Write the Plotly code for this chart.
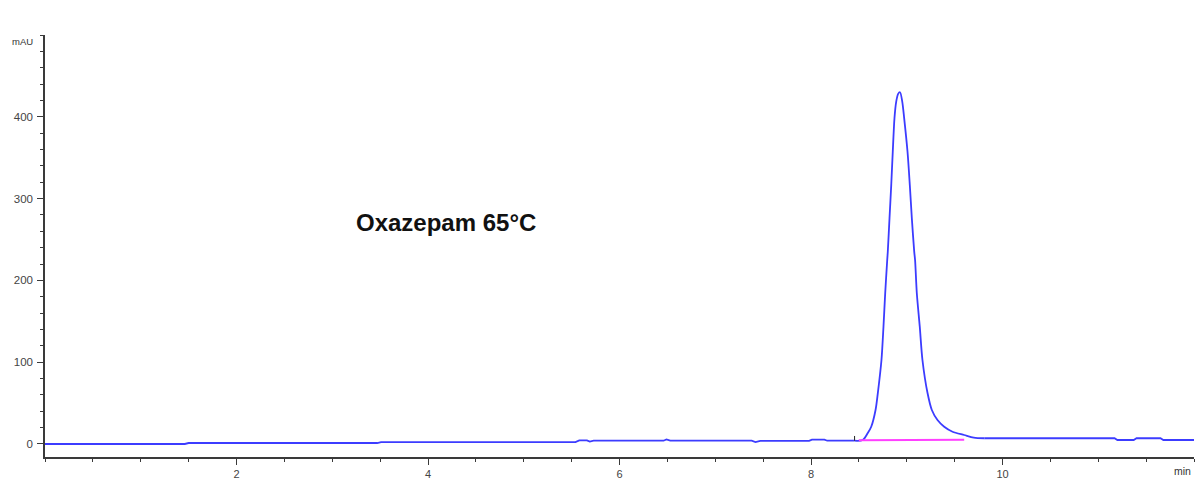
import plotly.graph_objects as go

# Retention time (min) and absorbance (mAU) of the chromatogram trace
time_min = [
    0.00, 1.46, 1.50, 3.47, 3.51, 5.54, 5.58, 5.66, 5.69, 5.73,
    6.46, 6.49, 6.53, 7.38, 7.42, 7.47, 7.98, 8.01, 8.14, 8.17,
    8.455, 8.541, 8.593, 8.629, 8.674, 8.698, 8.736, 8.757, 8.775, 8.796,
    8.802, 8.820, 8.838, 8.854, 8.872, 8.890, 8.910, 8.930, 8.953, 8.973,
    9.008, 9.032, 9.053, 9.078, 9.087, 9.105, 9.136, 9.164, 9.217, 9.262,
    9.321, 9.391, 9.478, 9.600, 9.700, 9.810, 11.17, 11.20, 11.37, 11.40,
    11.65, 11.68, 12.00,
]
absorbance_mau = [
    0.0, 0.0, 1.2, 1.2, 2.4, 2.4, 4.5, 4.5, 3.0, 4.0,
    4.0, 5.5, 4.0, 4.0, 2.4, 3.8, 3.8, 5.3, 5.3, 4.0,
    4.0, 4.9, 13.4, 21.1, 41.6, 62.3, 102.7, 143.4, 184.6, 224.9,
    235.1, 276.3, 316.6, 357.3, 398.5, 418.5, 428.0, 430.0, 418.5, 398.5,
    357.3, 316.6, 276.3, 235.1, 224.9, 184.6, 143.4, 102.7, 62.3, 41.6,
    29.3, 21.1, 15.0, 11.0, 7.8, 7.0, 7.0, 4.9, 4.9, 7.0,
    7.0, 4.9, 4.9,
]

# Integration baseline under the peak
baseline_time = [8.50, 9.60]
baseline_mau = [4.6, 5.2]

# Peak start marker
marker_time = [8.455, 8.455]
marker_mau = [4.0, 9.8]

x_tick_vals = [2, 4, 6, 8, 10]
y_tick_vals = [0, 100, 200, 300, 400]

label_text = "Oxazepam 65°C"
label_pos = (4.19, 271)

font_family = "Liberation Sans, Arial, sans-serif"
axis_color = "#3a3a3a"
trace_color = "#3c3cff"

# Plot area in pixels (used to place the corner unit labels)
plot_w = 1202 - 45 - 8
plot_h = 482 - 35 - 25

# The peak is drawn smoothed; the flat detector baseline stays piecewise linear
peak_start = time_min.index(8.455)
peak_end = time_min.index(9.810)
segments = [
    (slice(0, peak_start + 1), "linear"),
    (slice(peak_start, peak_end + 1), "spline"),
    (slice(peak_end, len(time_min)), "linear"),
]

fig = go.Figure()
for sl, shape in segments:
    fig.add_trace(go.Scatter(
        x=time_min[sl], y=absorbance_mau[sl], mode="lines",
        line=dict(color=trace_color, width=1.8, shape=shape, smoothing=0.8),
        hoverinfo="skip",
    ))
fig.add_trace(go.Scatter(
    x=baseline_time, y=baseline_mau, mode="lines",
    line=dict(color="#ff40ff", width=2), hoverinfo="skip",
))
fig.add_trace(go.Scatter(
    x=marker_time, y=marker_mau, mode="lines",
    line=dict(color="#222222", width=1), hoverinfo="skip",
))

fig.add_annotation(
    x=label_pos[0], y=label_pos[1], xref="x", yref="y",
    text=label_text, showarrow=False, xanchor="center", yanchor="middle",
    font=dict(family=font_family, size=24, color="#111111", weight="bold"),
)
fig.add_annotation(
    x=(35 - 45) / plot_w, y=1 + (35 - 41) / plot_h,
    xref="paper", yref="paper", text="mAU", showarrow=False,
    xanchor="right", yanchor="middle",
    font=dict(family=font_family, size=9.5, color="#333333"),
)
fig.add_annotation(
    x=1 + (1193 - 1194) / plot_w, y=-(471 - 457) / plot_h,
    xref="paper", yref="paper", text="min", showarrow=False,
    xanchor="right", yanchor="middle",
    font=dict(family=font_family, size=10.5, color="#333333"),
)

fig.update_layout(
    width=1202, height=482,
    margin=dict(l=45, r=8, t=35, b=25, pad=0, autoexpand=False),
    paper_bgcolor="white", plot_bgcolor="white",
    showlegend=False,
    font=dict(family=font_family, size=10, color="#444444"),
)
fig.update_xaxes(
    range=[0, 12], tickmode="array", tickvals=x_tick_vals,
    showgrid=False, zeroline=False,
    showline=True, linecolor=axis_color, linewidth=1.5,
    ticks="outside", ticklen=6, tickwidth=1.2, tickcolor=axis_color,
    tickfont=dict(family=font_family, size=11, color="#444444"),
    minor=dict(tickmode="linear", tick0=0, dtick=0.5, ticks="outside",
               ticklen=3, tickwidth=1, tickcolor=axis_color, showgrid=False),
)
fig.update_yaxes(
    range=[-15.9, 500], tickmode="array", tickvals=y_tick_vals,
    showgrid=False, zeroline=False,
    showline=True, linecolor=axis_color, linewidth=1.5,
    ticks="outside", ticklen=6, tickwidth=1.2, tickcolor=axis_color,
    tickfont=dict(family=font_family, size=11.5, color="#444444"),
    ticklabelstandoff=2,
    minor=dict(tickmode="linear", tick0=0, dtick=20, ticks="outside",
               ticklen=3, tickwidth=1, tickcolor=axis_color, showgrid=False),
)

fig.write_html("out.html")
